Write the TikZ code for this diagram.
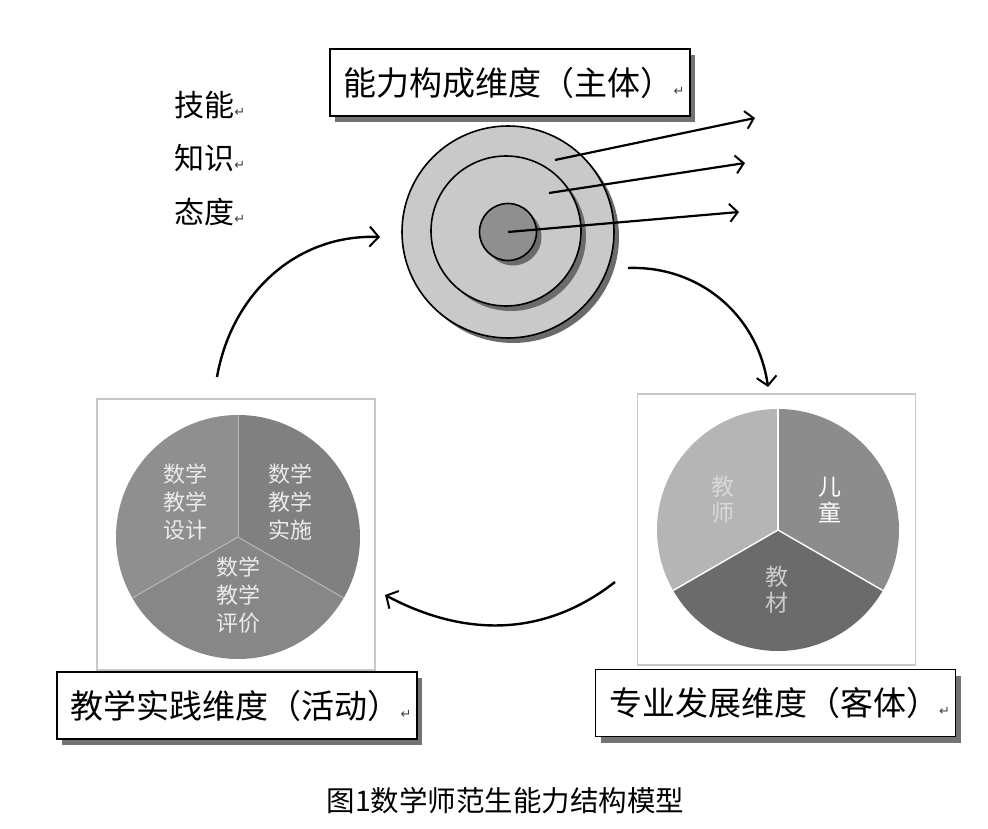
\documentclass[tikz,border=0pt]{standalone}
\usepackage{fontspec}
\newfontfamily\cjk{Noto Sans CJK SC}
\newfontfamily\symf{DejaVu Sans}
\usetikzlibrary{arrows.meta,shadows}
\newcommand{\retmark}{{\symf\fontsize{13}{13}\selectfont\color{black!75}↵}}
\definecolor{ringc}{gray}{0.79}
\definecolor{corec}{gray}{0.56}
\definecolor{shadc}{gray}{0.42}

\tikzset{every picture/.style={line width=0.75pt}}

\begin{document}
\begin{tikzpicture}[x=1pt,y=1pt,
	lblbox/.style={draw=black,line width=1.8pt,fill=white,minimum width=360pt,minimum height=67pt,inner sep=0pt,
		drop shadow={shadow xshift=5pt,shadow yshift=-6pt,fill=black!55,opacity=1},font=\cjk\fontsize{33}{40}\selectfont},
	word/.style={anchor=west,inner sep=0pt,font=\cjk\fontsize{30}{36}\selectfont},
	ring/.style={circle,draw=black,line width=1.6pt,inner sep=0pt,
		drop shadow={shadow xshift=5pt,shadow yshift=-5pt,fill=shadc,opacity=1}},
	piebox/.style={draw=black!22,line width=1.2pt,minimum width=278pt,minimum height=271pt,inner sep=0pt},
	pietxt/.style={align=center,inner sep=0pt,text=black!8,font=\cjk\fontsize{22}{28}\selectfont},
	arr/.style={-{Straight Barb[length=8pt,width=18pt,line width=2pt]},line width=2.2pt},
	curv/.style={-{Straight Barb[length=9pt,width=20pt,line width=2pt]},line width=2.4pt}]
	\useasboundingbox (0,0) rectangle (988,828);
	\fill[white] (0,0) rectangle (988,828);
	%% 能力构成维度
	\node[lblbox] (top) at (510,745.5) {\hspace*{8pt}能力构成维度（主体）\retmark};
	\node[word] (w1) at (174,723) {技能\retmark};
	\node[word] (w2) at (174,670) {知识\retmark};
	\node[word] (w3) at (174,616) {态度\retmark};
	\node[ring,fill=ringc,minimum size=212pt] (outer) at (508,596) {}; %外圆
	\node[ring,fill=ringc,minimum size=150pt] (mid) at (506,597) {}; %中圆
	\node[ring,fill=corec,minimum size=57pt] (core) at (508,596) {}; %内圆
	\coordinate (s1) at (555,668); \coordinate (e1) at (755,710);
	\coordinate (s2) at (549,635); \coordinate (e2) at (745,665);
	\coordinate (e3) at (739,616);
	\draw[arr] (s1)--(e1);
	\draw[arr] (s2)--(e2);
	\draw[arr] (core.center)--(e3);
	%% 教学实践维度
	\node[piebox] (fL) at (236,293.5) {};
	\coordinate (pL) at (238,291);
	\fill[black!44] (pL) -- ++(90:122) arc[start angle=90,end angle=210,radius=122pt] -- cycle;
	\fill[black!47] (pL) -- ++(210:122) arc[start angle=210,end angle=330,radius=122pt] -- cycle;
	\fill[black!50] (pL) -- ++(330:122) arc[start angle=330,end angle=450,radius=122pt] -- cycle;
	\foreach \a in {90,210,330} \draw[black!28,line width=1pt] (pL) -- ++(\a:122);
	\node[pietxt] (t1) at (185,326) {数学\\教学\\设计};
	\node[pietxt] (t2) at (290,326) {数学\\教学\\实施};
	\node[pietxt] (t3) at (238,233) {数学\\教学\\评价};
	\node[lblbox] (left) at (237,122.5) {\hspace*{8pt}教学实践维度（活动）\retmark};
	%% 专业发展维度
	\node[piebox] (fR) at (776.5,298.5) {};
	\coordinate (pR) at (778,298);
	\fill[black!29] (pR) -- ++(90:121) arc[start angle=90,end angle=210,radius=121pt] -- cycle;
	\fill[black!58] (pR) -- ++(210:121) arc[start angle=210,end angle=330,radius=121pt] -- cycle;
	\fill[black!45] (pR) -- ++(330:121) arc[start angle=330,end angle=450,radius=121pt] -- cycle;
	\foreach \a in {90,210,330} \draw[white,line width=1.4pt] (pR) -- ++(\a:121);
	\node[pietxt,text=black!15,font=\cjk\fontsize{23}{26}\selectfont] (t4) at (723,328) {教\\师};
	\node[pietxt,text=white,font=\cjk\fontsize{23}{26}\selectfont] (t5) at (830,328) {儿\\童};
	\node[pietxt,text=black!20,font=\cjk\fontsize{23}{26}\selectfont] (t6) at (777,238) {教\\材};
	\node[lblbox] (right) at (775.5,125) {\hspace*{8pt}专业发展维度（客体）\retmark};
	%% 循环箭头
	\coordinate (c1) at (217,451); \coordinate (c2) at (380,591);
	\coordinate (c3) at (628,560); \coordinate (c4) at (768,441);
	\coordinate (c5) at (615,246); \coordinate (c6) at (385,233);
	\draw[curv] (c1) to[out=80,in=178] (c2);
	\draw[curv] (c3) to[out=2,in=98] (c4);
	\draw[curv] (c5) to[out=218,in=-28] (c6);
	\node[font=\cjk\fontsize{28.5}{32}\selectfont] (cap) at (505.5,27) {图1数学师范生能力结构模型};
\end{tikzpicture}
\end{document}
